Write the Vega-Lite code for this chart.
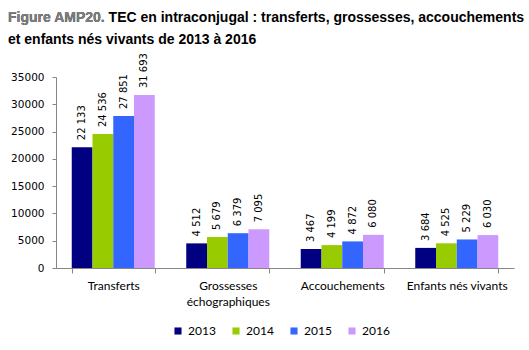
{
  "$schema": "https://vega.github.io/schema/vega-lite/v6.json",
  "width": 458,
  "height": 191,
  "autosize": {"type": "none"},
  "padding": {"left": 56, "top": 77, "right": 15, "bottom": 82},
  "background": "white",
  "title": {
    "text": ["Figure AMP20. TEC en intraconjugal : transferts, grossesses, accouchements", "et enfants nés vivants de 2013 à 2016"],
    "subtitle": "Figure AMP20.",
    "anchor": "start",
    "frame": "group",
    "dx": -48,
    "offset": 6,
    "font": "Liberation Sans",
    "fontSize": 14,
    "fontWeight": "bold",
    "color": "black",
    "lineHeight": 22,
    "subtitleFont": "Liberation Sans",
    "subtitleFontSize": 14,
    "subtitleFontWeight": "bold",
    "subtitleColor": "#7f7f7f",
    "subtitlePadding": -36
  },
  "config": {
    "view": {"stroke": null},
    "locale": {"number": {"decimal": ",", "thousands": "\u00a0", "grouping": [3], "currency": ["", " €"]}}
  },
  "data": {
    "values": [
      {"cat": "Transferts", "year": "2013", "value": 22133},
      {"cat": "Transferts", "year": "2014", "value": 24536},
      {"cat": "Transferts", "year": "2015", "value": 27851},
      {"cat": "Transferts", "year": "2016", "value": 31693},
      {"cat": "Grossesses échographiques", "year": "2013", "value": 4512},
      {"cat": "Grossesses échographiques", "year": "2014", "value": 5679},
      {"cat": "Grossesses échographiques", "year": "2015", "value": 6379},
      {"cat": "Grossesses échographiques", "year": "2016", "value": 7095},
      {"cat": "Accouchements", "year": "2013", "value": 3467},
      {"cat": "Accouchements", "year": "2014", "value": 4199},
      {"cat": "Accouchements", "year": "2015", "value": 4872},
      {"cat": "Accouchements", "year": "2016", "value": 6080},
      {"cat": "Enfants nés vivants", "year": "2013", "value": 3684},
      {"cat": "Enfants nés vivants", "year": "2014", "value": 4525},
      {"cat": "Enfants nés vivants", "year": "2015", "value": 5229},
      {"cat": "Enfants nés vivants", "year": "2016", "value": 6030}
    ]
  },
  "encoding": {
    "x": {
      "field": "cat",
      "type": "nominal",
      "sort": ["Transferts", "Grossesses échographiques", "Accouchements", "Enfants nés vivants"],
      "scale": {"paddingInner": 0.275, "paddingOuter": 0.1375},
      "axis": {
        "title": null,
        "labelAngle": 0,
        "labelFont": "Lato",
        "labelFontSize": 12,
        "labelColor": "black",
        "labelPadding": 7,
        "labelLineHeight": 16,
        "labelExpr": "datum.label == 'Grossesses échographiques' ? ['Grossesses', 'échographiques'] : datum.label",
        "domainColor": "#868686",
        "tickColor": "#868686",
        "tickBand": "extent",
        "tickSize": 5
      }
    },
    "xOffset": {"field": "year", "type": "nominal", "scale": {"paddingInner": 0, "paddingOuter": 0}},
    "y": {
      "field": "value",
      "type": "quantitative",
      "scale": {"domain": [0, 35000], "nice": false},
      "axis": {
        "title": null,
        "grid": false,
        "values": [0, 5000, 10000, 15000, 20000, 25000, 30000, 35000],
        "format": "d",
        "labelFont": "DejaVu Sans",
        "labelFontSize": 10.5,
        "labelColor": "black",
        "labelPadding": 8,
        "domainColor": "#868686",
        "tickColor": "#868686",
        "tickSize": 4
      }
    }
  },
  "layer": [
    {
      "mark": {"type": "bar"},
      "encoding": {
        "color": {
          "field": "year",
          "type": "nominal",
          "scale": {"domain": ["2013", "2014", "2015", "2016"], "range": ["#000080", "#99cc00", "#3366ff", "#cc99ff"]},
          "legend": {
            "title": null,
            "orient": "none",
            "direction": "horizontal",
            "legendX": 116,
            "legendY": 248,
            "symbolType": "square",
            "symbolSize": 50,
            "symbolStrokeWidth": 0,
            "symbolOpacity": 1,
            "labelFont": "Lato",
            "labelFontSize": 12,
            "labelColor": "black",
            "columnPadding": 14,
            "labelOffset": 4
          }
        }
      }
    },
    {
      "mark": {"type": "text", "angle": -90, "align": "left", "baseline": "middle", "dx": 7, "font": "DejaVu Sans", "fontSize": 10, "color": "black"},
      "encoding": {
        "text": {"field": "value", "type": "quantitative", "format": ",d"}
      }
    }
  ]
}
